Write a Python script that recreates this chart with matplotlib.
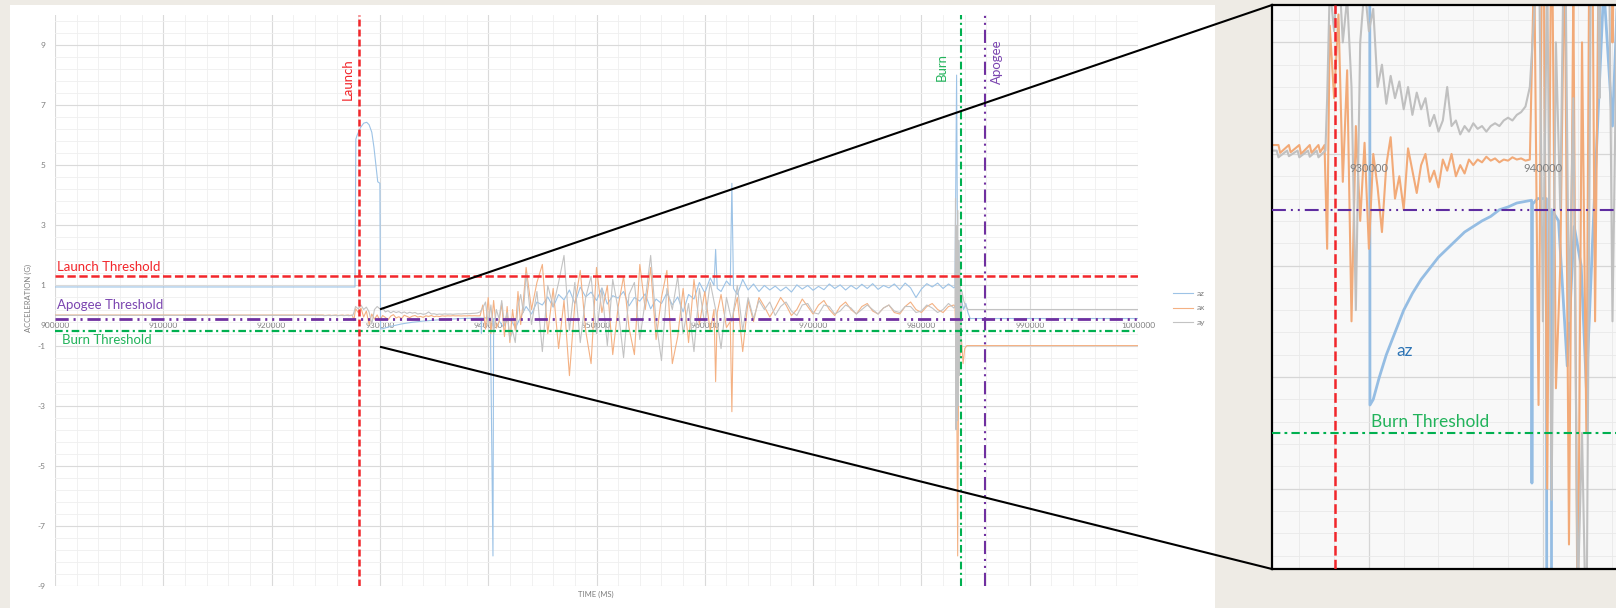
import numpy as np
import matplotlib
matplotlib.use("Agg")
import matplotlib.pyplot as plt
from matplotlib.lines import Line2D
from matplotlib.patches import Rectangle
from matplotlib.ticker import MultipleLocator, FixedLocator, FuncFormatter

plt.rcParams["font.family"] = ["Lato", "DejaVu Sans"]
plt.rcParams["lines.scale_dashes"] = False
plt.rcParams["axes.unicode_minus"] = False

# ---------------------------------------------------------------- flight events
T_LAUNCH = 928050
T_BURN = 983680
T_APOGEE = 985880
LAUNCH_THR = 1.3
APOGEE_THR = -0.1
BURN_THR = -0.5

# ---------------------------------------------------------------- az (g)
az_pre_t = [900000, 927700]
az_pre = [0.95, 0.95]
az_boost_t = [927780, 927900, 928200, 928500, 928780, 929000, 929250, 929450, 929600, 929800,
              930000, 930060, 930250, 930600, 931000, 931500, 932000, 932500, 933000, 933500,
              934000, 934500, 935000, 935500, 936000, 936500, 937000, 937500, 938000, 938500,
              939000, 939350, 939370, 939400, 939700, 940200, 940440, 940500, 940900, 941400,
              941800, 942200, 942500, 943000]
az_boost = [5.87, 6.0, 6.25, 6.4, 6.43, 6.35, 6.1, 5.6, 5.1, 4.45,
            4.4, -0.45, -0.44, -0.40, -0.36, -0.32, -0.28, -0.25, -0.225, -0.205,
            -0.185, -0.17, -0.155, -0.14, -0.13, -0.12, -0.112, -0.10, -0.095, -0.088,
            -0.085, -0.083, -0.59, -0.09, -0.08, -0.08, -8.0, -0.10, -0.12, -0.38,
            -0.13, -0.20, -0.42, -0.05]
# 500 ms samples, 943500 .. 983000
az_coast = [0.30, 0.05, 0.45, 0.35, 0.62, 0.28, 0.70, 0.52, 0.85, 0.40,
            0.95, 0.62, 0.78, 0.50, 0.92, 0.38, 0.66, 0.58, 0.80, 0.32,
            0.60, 0.48, 0.72, 0.22, 0.55, 0.40, 0.75, 0.35, 0.62, 0.12,
            0.70, 0.55, 1.10, 0.75, 1.25, 2.20, 0.80, 1.15, 4.40, 0.70,
            1.20, 0.85, 1.05, 0.80, 1.00, 0.85, 0.98, 0.82, 0.95, 0.78,
            1.02, 0.88, 1.00, 0.84, 0.97, 0.86, 1.05, 0.90, 1.02, 0.85,
            1.00, 0.88, 1.04, 0.90, 1.06, 0.87, 1.00, 0.92, 1.05, 0.86,
            1.08, 0.92, 0.60, 0.88, 1.06, 0.95, 1.08, 0.90, 1.05, 0.92]
az_extra_t = [960850, 961150, 962350, 962650]
az_extra = [1.0, 0.9, 1.0, 0.9]
az_end_t = [983100, 983250, 983350, 983450, 983550, 983700, 983900, 984100, 984300, 984500, 1000000]
az_end = [0.95, 8.0, 1.0, 2.5, 0.3, 0.5, 0.2, 0.4, 0.1, -0.1, -0.1]

# ---------------------------------------------------------------- ax (g)
ax_pre_t = [900000, 924800, 924900, 925400, 925500, 926000, 926100, 926600, 926700, 927100,
            927200, 927450, 927600]
ax_pre = [0.016, 0.016, 0.002, 0.016, 0.003, 0.016, 0.0, 0.016, 0.002, 0.016,
          0.003, 0.016, -0.17]
# 250 ms samples, 927750 .. 943250
ax_boost = [0.23, 0.10, 0.25, -0.05, 0.15, -0.30, 0.05, -0.12, 0.02,
            -0.17, 0.00, -0.06, -0.14, -0.02, 0.03, -0.08, -0.04, -0.10, 0.01,
            -0.03, -0.07, -0.02, 0.00, -0.05, -0.03, -0.06, -0.01, -0.03, 0.00,
            -0.04, -0.02, -0.035, -0.01, -0.02, -0.01, -0.015, -0.005, -0.012, -0.008,
            -0.015, -0.01, -0.012, -0.006, -0.01, -0.008, -0.012, -0.01,
            0.35, -0.45, 0.60, -0.60, 0.50, -0.42, -0.20, 0.40, -0.70, 0.30,
            -0.90, 0.20, -0.50, 0.80, -0.30, 0.50]
ax_coast = [1.6, 0.2, 1.1, 1.7, -0.6, 0.9, -1.1, 0.5, -2.0, 0.4,
            1.5, -0.5, -1.6, 1.6, 0.1, 1.0, -1.3, 0.3, 1.3, -0.4,
            -1.3, 1.7, 0.2, 1.6, -0.8, 0.6, 1.5, -1.6, -0.7, 0.9,
            -0.9, 1.2, -0.3, 0.8, -0.5, -2.2, 0.7, -0.4, -3.2, 0.6,
            -1.2, 0.5, -0.2, 0.60, 0.30, -0.05, 0.25, 0.60, 0.35, 0.00,
            0.20, 0.55, 0.30, 0.05, 0.35, 0.50, 0.20, 0.00, 0.30, 0.45,
            0.20, 0.05, 0.30, 0.40, 0.15, 0.05, 0.25, 0.35, 0.10, 0.05,
            0.30, 0.45, 0.20, 0.10, 0.30, 0.40, 0.20, 0.10, 0.30, 0.35]
ax_extra_t = [960850, 961150, 962350, 962650]
ax_extra = [0.2, 0.1, -0.2, 0.1]
ax_end_t = [983100, 983250, 983350, 983450, 983550, 983700, 983850, 984000, 984200, 1000000]
ax_end = [0.3, -1.5, -8.0, -0.5, -1.4, -0.8, -1.6, -1.1, -1.0, -1.0]

# ---------------------------------------------------------------- ay (g)
ay_pre_t = [900000, 924700, 924800, 925300, 925400, 925900, 926000, 926500, 926600, 927000,
            927100, 927500, 927600]
ay_pre = [0.006, 0.006, -0.006, 0.006, -0.004, 0.006, -0.006, 0.006, -0.005, 0.006,
          -0.006, 0.006, 0.10]
ay_boost = [0.30, 0.22, 0.35, 0.20, 0.28, 0.12, -0.28, 0.20, 0.30,
            0.22, 0.26, 0.12, 0.16, 0.09, 0.14, 0.10, 0.13, 0.08, 0.12,
            0.07, 0.11, 0.08, 0.10, 0.05, 0.07, 0.04, 0.06, 0.12, 0.05,
            0.06, 0.035, 0.05, 0.04, 0.055, 0.045, 0.05, 0.04, 0.05, 0.055,
            0.05, 0.06, 0.065, 0.06, 0.07, 0.075, 0.085, 0.12,
            0.25, 0.45, -0.30, 0.35, -0.62, 0.20, -0.10, 0.50, -0.30, 0.10,
            -0.80, -0.50, -0.90, 0.30, 0.70, 0.10]
ay_coast = [1.4, -0.3, 0.8, -1.2, 1.0, 0.3, 1.1, 2.0, -0.5, 1.1,
            -0.9, 0.6, 1.3, -0.6, 0.9, -1.0, 1.2, 0.2, -1.4, 0.7,
            1.1, -0.8, 0.5, 2.0, -0.2, -1.5, 0.9, 0.2, 1.3, -0.6,
            0.4, -1.2, 0.9, -0.3, 1.1, 0.2, -1.1, 0.6, -0.2, 1.0,
            -0.5, 0.6, -0.1, 0.50, 0.20, 0.45, 0.00, 0.30, 0.45, 0.15,
            0.00, 0.35, 0.40, 0.10, 0.05, 0.35, 0.30, 0.05, 0.15, 0.35,
            0.25, 0.05, 0.20, 0.35, 0.20, 0.05, 0.25, 0.35, 0.15, 0.10,
            0.30, 0.30, 0.10, 0.15, 0.35, 0.25, 0.10, 0.20, 0.40, 0.25]
ay_end_t = [983100, 983150, 983200, 983250, 983300, 983350, 983400, 983450, 983500, 983550,
            983650, 983750, 983900, 984100, 984300, 1000000]
ay_end = [0.3, 3.9, -3.8, 3.0, -3.5, 3.5, -3.0, 2.5, -2.0, 1.8,
          -1.0, 0.8, 0.5, 0.3, 0.2, 0.2]

boost_grid = np.arange(927750, 943251, 250)
coast_grid = np.arange(943500, 983001, 500)


def series(*parts):
    t = np.concatenate([np.asarray(p[0], float) for p in parts])
    v = np.concatenate([np.asarray(p[1], float) for p in parts])
    order = np.argsort(t, kind="stable")
    return t[order], v[order]


az_t, az_v = series((az_pre_t, az_pre), (az_boost_t, az_boost), (coast_grid, az_coast),
                    (az_extra_t, az_extra), (az_end_t, az_end))
ax_t, ax_v = series((ax_pre_t, ax_pre), (boost_grid, ax_boost), (coast_grid, ax_coast),
                    (ax_extra_t, ax_extra), (ax_end_t, ax_end))
ay_t, ay_v = series((ay_pre_t, ay_pre), (boost_grid, ay_boost), (coast_grid, ay_coast),
                    (ay_end_t, ay_end))

# ---------------------------------------------------------------- styling
AZ_C, AX_C, AY_C = "#9dc3e6", "#f4b183", "#c3c3c3"
RED, PURPLE, GREEN = "#f2262b", "#7030a0", "#00b050"
PURPLE_TXT, GREEN_TXT = "#7b45b0", "#22b35b"
TICK_C = "#7f7f7f"
DASH_DOT_DOT = (9.5, 3.5, 1.5, 3.5, 1.5, 3.5)
DASH_DOT = (5.5, 2.5, 1.5, 2.5)

W, H = 1616, 608
fig = plt.figure(figsize=(W / 100, H / 100), dpi=100, facecolor="#eeebe5")


def px_box(left, top, right, bottom):
    return [left / W, 1 - bottom / H, (right - left) / W, (bottom - top) / H]


fig.add_artist(Rectangle((10 / W, 0), (1215 - 10) / W, (H - 5) / H, transform=fig.transFigure,
                         facecolor="white", edgecolor="none", zorder=-5))

# ---------------------------------------------------------------- main chart
ax = fig.add_axes(px_box(55, 15, 1138, 586))
ax.set_facecolor("white")
l_az, = ax.plot(az_t, az_v, color=AZ_C, lw=0.8, label="az", zorder=2)
l_ax, = ax.plot(ax_t, ax_v, color=AX_C, lw=0.8, label="ax", zorder=2)
l_ay, = ax.plot(ay_t, ay_v, color=AY_C, lw=0.8, label="ay", zorder=2)

ax.set_xlim(900000, 1000000)
ax.set_ylim(-9, 10)
ax.xaxis.set_major_locator(MultipleLocator(10000))
ax.xaxis.set_minor_locator(MultipleLocator(2000))
ax.yaxis.set_major_locator(FixedLocator(np.arange(-9, 10, 2)))
ax.yaxis.set_minor_locator(FixedLocator(np.round(np.arange(-9, 10.01, 0.4), 2)))
ax.xaxis.set_major_formatter(FuncFormatter(lambda v, p: f"{int(round(v))}"))
ax.yaxis.set_major_formatter(FuncFormatter(lambda v, p: f"{int(round(v))}"))
ax.grid(which="major", color="#dadada", lw=0.8)
ax.grid(which="minor", color="#efefef", lw=0.6)
ax.set_axisbelow(True)
for s in ax.spines.values():
    s.set_visible(False)
ax.spines["bottom"].set_position(("data", 0))
ax.tick_params(which="both", length=0, labelsize=6, labelcolor=TICK_C)
ax.tick_params(axis="x", pad=5)
ax.tick_params(axis="y", pad=7)

ax.axhline(LAUNCH_THR, color=RED, lw=1.8, dashes=(6, 2.6), zorder=4)
ax.axhline(APOGEE_THR, color=PURPLE, lw=2.0, dashes=DASH_DOT_DOT, zorder=4)
ax.axhline(BURN_THR, color=GREEN, lw=1.6, dashes=DASH_DOT, zorder=4)
ax.axvline(T_LAUNCH, color=RED, lw=1.8, dashes=(5, 2.2), zorder=4)
ax.axvline(T_BURN, color=GREEN, lw=1.5, dashes=DASH_DOT, zorder=4)
ax.axvline(T_APOGEE, color=PURPLE, lw=1.5, dashes=DASH_DOT_DOT, zorder=4)

ax.annotate("Launch", xy=(T_LAUNCH, 7.87), xytext=(-8, 0), textcoords="offset points",
            rotation=90, ha="center", va="center", color=RED, fontsize=9.5)
ax.annotate("Burn", xy=(T_BURN, 8.27), xytext=(-13.7, 0), textcoords="offset points",
            rotation=90, ha="center", va="center", color=GREEN_TXT, fontsize=9.5)
ax.annotate("Apogee", xy=(T_APOGEE, 8.43), xytext=(8.6, 0), textcoords="offset points",
            rotation=90, ha="center", va="center", color=PURPLE_TXT, fontsize=9.5)
ax.annotate("Launch Threshold", xy=(900000, LAUNCH_THR), xytext=(1.5, 6.5),
            textcoords="offset points", ha="left", va="center", color=RED, fontsize=9.5)
ax.annotate("Apogee Threshold", xy=(900000, APOGEE_THR), xytext=(1.5, 10),
            textcoords="offset points", ha="left", va="center", color=PURPLE_TXT, fontsize=9.5)
ax.annotate("Burn Threshold", xy=(900000, BURN_THR), xytext=(5, -6.5),
            textcoords="offset points", ha="left", va="center", color=GREEN_TXT, fontsize=9.5)

fig.text(596 / W, 1 - 594 / H, "TIME (MS)", ha="center", va="center", fontsize=5.5, color=TICK_C)
fig.text(28 / W, 1 - 298 / H, "ACCELERATION (G)", ha="center", va="center", rotation=90,
         fontsize=5.5, color=TICK_C)

ax.legend(handles=[l_az, l_ax, l_ay], loc="center left",
          bbox_to_anchor=((1173 - 55) / 1083, (586 - 308) / 571), frameon=False,
          borderpad=0, borderaxespad=0, handlelength=2.4, handletextpad=0.5,
          labelspacing=0.9, fontsize=6, labelcolor=TICK_C)

# ---------------------------------------------------------------- detail view
axin = fig.add_axes(px_box(1272, 5, 1625, 569))
axin.set_facecolor("#f8f8f8")
axin.plot(az_t, az_v, color="#95bde3", lw=2.0, zorder=2)
axin.plot(ax_t, ax_v, color="#f2aa78", lw=1.5, zorder=2)
axin.plot(ay_t, ay_v, color="#c0c0c0", lw=1.5, zorder=2)
axin.set_xlim(924430, 944720)
axin.set_ylim(-0.744, 0.267)
axin.xaxis.set_major_locator(MultipleLocator(10000))
axin.xaxis.set_minor_locator(MultipleLocator(2000))
axin.yaxis.set_major_locator(FixedLocator(np.round(np.arange(-3, 2) * 0.2, 2)))
axin.yaxis.set_minor_locator(FixedLocator(np.round(np.arange(-18, 7) * 0.04, 2)))
axin.grid(which="major", color="#d6d6d6", lw=0.9)
axin.grid(which="minor", color="#e9e9e9", lw=0.6)
axin.set_axisbelow(True)
axin.tick_params(which="both", length=0, labelleft=False, labelbottom=False)
for s in axin.spines.values():
    s.set_color("black")
    s.set_linewidth(1.6)

axin.axhline(APOGEE_THR, color="#5e2ca0", lw=1.5, dashes=(10, 3.6, 1.4, 3.6, 1.4, 3.6), zorder=4)
axin.axhline(BURN_THR, color=GREEN, lw=1.5, dashes=(6, 3, 2, 3), zorder=4)
axin.axvline(T_LAUNCH, color=RED, lw=1.8, dashes=(7, 3), zorder=4)
for tick in (930000, 940000):
    axin.annotate(f"{tick}", xy=(tick, 0), xytext=(0, -10.8), textcoords="offset points",
                  ha="center", va="center", fontsize=8, color="#808080", zorder=5)
axin.text(932070, -0.353, "az", color="#2e75b6", fontsize=12.5, ha="center", va="center", zorder=5)
axin.annotate("Burn Threshold", xy=(930115, BURN_THR), xytext=(0, 8), textcoords="offset points",
              ha="left", va="center", color=GREEN_TXT, fontsize=12.5, zorder=5)

# connector lines from the launch region to the detail view
for (x0, y0), (x1, y1) in [((381, 309), (1272, 5)), ((381, 347), (1272, 569))]:
    fig.add_artist(Line2D([x0 / W, x1 / W], [1 - y0 / H, 1 - y1 / H], transform=fig.transFigure,
                          color="black", lw=1.5, zorder=20))

fig.savefig("out.png", dpi=100, facecolor=fig.get_facecolor())
